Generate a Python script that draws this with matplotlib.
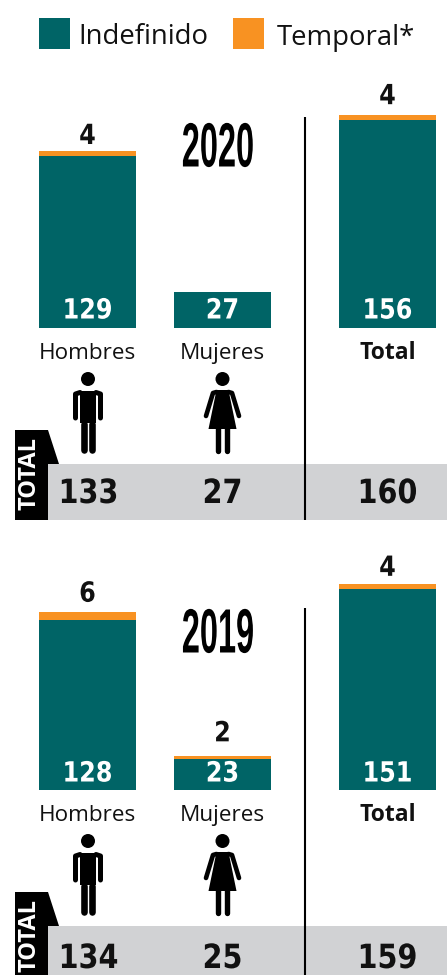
import matplotlib
matplotlib.use("Agg")
import matplotlib.pyplot as plt
import matplotlib.patheffects as pe
from matplotlib.patches import Rectangle, Polygon, Circle
from matplotlib.transforms import Affine2D

plt.rcParams["font.family"] = ["Open Sans", "DejaVu Sans"]

# Data
years = ["2020", "2019"]
categories = ["Hombres", "Mujeres", "Total"]
indefinido = [[129, 27, 156], [128, 23, 151]]
temporal = [[4, 0, 4], [6, 2, 4]]
totals = [[133, 27, 160], [134, 25, 159]]

# Layout in pixels
W, H = 447, 975
TEAL = "#006466"
ORANGE = "#F89222"
GREY = "#D1D2D4"
INK = "#111111"
PX_PER_UNIT = 1.327
BAR_X = [87.5, 222.5, 387.5]
BAR_W = 97
BASELINE = [327.5, 789.5]
AXES_H = 240
INNER_PAD = [17, 16]
TOP_PAD = [[15, 0, 19], [18, 23, 16]]
TOTAL_BASE_Y = [503, 968]


class Squeeze(pe.AbstractPathEffect):
    # narrows a text around a pixel x, no condensed fonts are installed
    def __init__(self, sx, cx):
        super().__init__()
        self.sx = sx
        self.cx = cx

    def draw_path(self, renderer, gc, tpath, affine, rgbFace=None):
        squeeze = Affine2D().translate(-self.cx, 0).scale(self.sx, 1).translate(self.cx, 0)
        renderer.draw_path(gc, tpath, affine + squeeze, rgbFace)


fig = plt.figure(figsize=(W / 100, H / 100), dpi=100)

bg = fig.add_axes([0, 0, 1, 1])
bg.set_xlim(0, W)
bg.set_ylim(H, 0)
bg.axis("off")


def limb(ax, xs, ys, width_px):
    ax.plot(xs, ys, color="black", lw=width_px * 0.72, solid_capstyle="round", solid_joinstyle="round")


def draw_man(ax, cx, dy):
    ax.add_patch(Circle((cx, 379 + dy), 7, color="black", lw=0))
    ax.add_patch(Rectangle((cx - 8, 391 + dy), 16, 32, color="black", lw=0))
    limb(ax, [cx - 4.2, cx - 4.2], [424 + dy, 450 + dy], 6.6)
    limb(ax, [cx + 4.2, cx + 4.2], [424 + dy, 450 + dy], 6.6)
    limb(ax, [cx - 12.5, cx - 12.5, cx - 8], [418 + dy, 394 + dy, 392.5 + dy], 5)
    limb(ax, [cx + 12.5, cx + 12.5, cx + 8], [418 + dy, 394 + dy, 392.5 + dy], 5)


def draw_woman(ax, cx, dy):
    ax.add_patch(Circle((cx, 379 + dy), 7, color="black", lw=0))
    ax.add_patch(Polygon([(cx - 6, 390 + dy), (cx + 6, 390 + dy), (cx + 14, 429 + dy), (cx - 14, 429 + dy)],
                         closed=True, color="black", lw=0))
    limb(ax, [cx - 6, cx - 9.5, cx - 16.5], [392 + dy, 393 + dy, 416 + dy], 4.6)
    limb(ax, [cx + 6, cx + 9.5, cx + 16.5], [392 + dy, 393 + dy, 416 + dy], 4.6)
    limb(ax, [cx - 4.9, cx - 4.9], [428 + dy, 450.5 + dy], 5.4)
    limb(ax, [cx + 4.9, cx + 4.9], [428 + dy, 450.5 + dy], 5.4)


def number_style(x, size, va="center"):
    return dict(family="DejaVu Sans", fontweight="bold", fontsize=size, ha="center", va=va,
                path_effects=[Squeeze(0.86, x)])


# Legend
bg.add_patch(Rectangle((39, 18), 31, 31, color=TEAL, lw=0))
bg.add_patch(Rectangle((233, 18), 31, 31, color=ORANGE, lw=0))
bg.text(78.5, 44.5, "Indefinido", fontsize=19.8, va="baseline", ha="left", color=INK)
bg.text(277, 44.5, "Temporal*", fontsize=19.8, va="baseline", ha="left", color=INK)

for i, year in enumerate(years):
    base = BASELINE[i]
    dy = base - BASELINE[0]
    band_top = 464 + dy
    band_bottom = min(520 + dy, H)

    # Grey band and TOTAL tag
    bg.add_patch(Rectangle((48, band_top), W - 48, band_bottom - band_top, color=GREY, lw=0))
    bg.add_patch(Polygon([(15, 430 + dy), (48, 430 + dy), (59, band_top), (48, band_top),
                          (48, band_bottom), (15, band_bottom)], closed=True, color="black", lw=0))
    bg.text(30, 474 + dy, "TOTAL", rotation=90, fontsize=17, fontweight="bold", color="white",
            ha="center", va="center", clip_on=True)

    # Divider
    line_top = 117 if i == 0 else 608
    bg.plot([305, 305], [line_top, band_bottom], color="black", lw=1.5, solid_capstyle="butt", zorder=3)

    # Year
    bg.text(218, 150 + (0 if i == 0 else 486), year, fontsize=45, fontweight="bold", family="Liberation Sans",
            color="black", ha="center", va="center", path_effects=[Squeeze(0.52, 218)])

    # Bars through their own y scale
    ax = fig.add_axes([0, (H - base) / H, 1, AXES_H / H])
    ax.set_xlim(0, W)
    ax.set_ylim(0, AXES_H / PX_PER_UNIT)
    ax.axis("off")
    ax.patch.set_alpha(0)
    ax.bar(BAR_X, indefinido[i], width=BAR_W, color=TEAL, linewidth=0)
    ax.bar(BAR_X, temporal[i], width=BAR_W, bottom=indefinido[i], color=ORANGE, linewidth=0)

    for j, x in enumerate(BAR_X):
        ind, tmp = indefinido[i][j], temporal[i][j]
        ax.annotate(str(ind), (x, 0), xytext=(0, INNER_PAD[i] * 0.72), textcoords="offset points", color="white",
                    **number_style(x, 20))
        if tmp > 0:
            ax.annotate(str(tmp), (x, ind + tmp), xytext=(0, TOP_PAD[i][j] * 0.72), textcoords="offset points",
                        color=INK, **number_style(x, 20))
        bg.text(x, 359 + dy, categories[j], fontsize=16.2 if j < 2 else 16.5, ha="center", va="baseline", color=INK,
                fontweight="bold" if j == 2 else "normal")
        bx = x + (1 if j == 0 else 0)
        bg.text(bx, TOTAL_BASE_Y[i], str(totals[i][j]), color=INK, clip_on=True,
                **number_style(bx, 24, va="baseline"))

    draw_man(bg, BAR_X[0] + 0.5, dy)
    draw_woman(bg, BAR_X[1], dy)

fig.savefig("out.png", dpi=100)
